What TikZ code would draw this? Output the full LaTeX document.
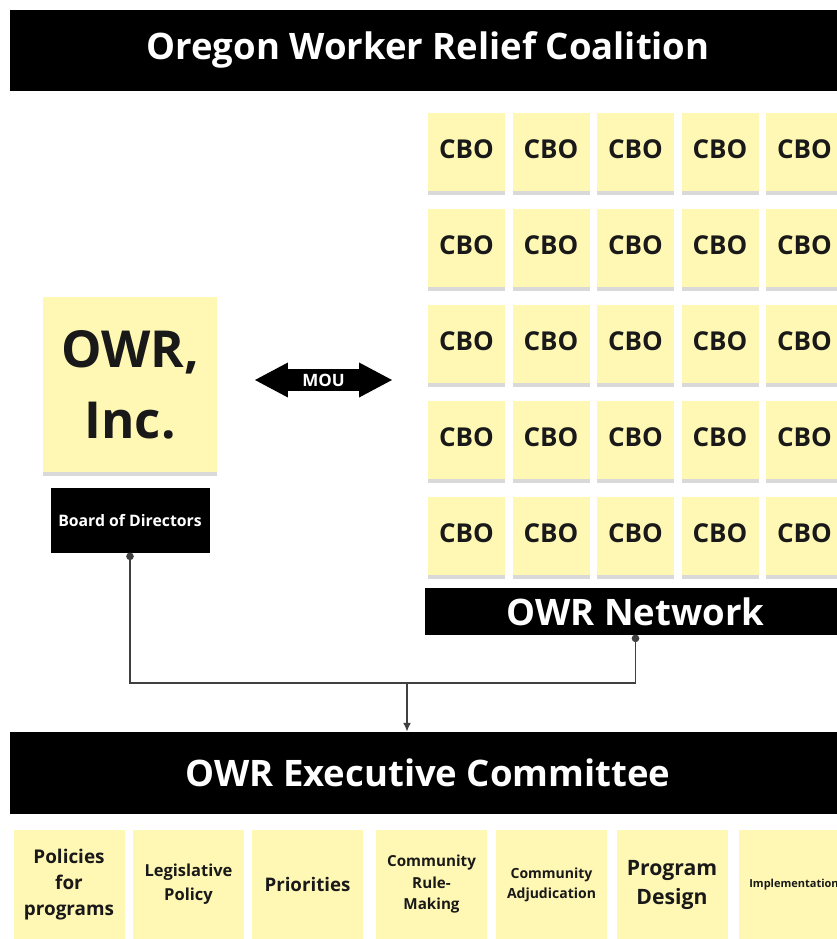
\documentclass[tikz,border=0pt]{standalone}
\usepackage{fontspec}
\setmainfont{Open Sans}
\usepackage{tikz}
\usetikzlibrary{shapes.arrows, arrows.meta, shadows, positioning}

\definecolor{stickyyellow}{HTML}{FFF8B4}
\definecolor{wiregray}{HTML}{404040}

\begin{document}
\begin{tikzpicture}[x=1pt, y=-1pt, >={Latex[length=9pt,width=8pt]}, font=\bfseries,
    bar/.style={draw=black, fill=black, text=white, inner sep=0pt},
    sticky/.style={fill=stickyyellow, align=center, inner sep=0pt, text=black!90,
        drop shadow={shadow xshift=0pt, shadow yshift=-4pt, opacity=0.3}},
    note/.style={sticky, minimum width=111pt, minimum height=109pt},
    cbo/.style={sticky, minimum width=77pt, minimum height=78pt, text depth=6pt, font=\fontsize{26}{30}\selectfont\bfseries},
    wire/.style={draw=wiregray, line width=1.8pt}]

\useasboundingbox (0,0) rectangle (837,939);
\clip (0,0) rectangle (837,939);

\node[bar, minimum width=836pt, minimum height=80pt, font=\fontsize{36.5}{40}\selectfont\bfseries] (coalition) at (428,50) {Oregon Worker Relief Coalition};

% member organisations
\foreach \r in {1,...,5}
    \foreach \c in {1,...,5}
        \node[cbo] (cbo-\r-\c) at ({466.5+84.5*(\c-1)}, {152+96*(\r-1)}) {CBO};

\node[bar, minimum width=420pt, minimum height=46pt, font=\fontsize{36.5}{40}\selectfont\bfseries, below=13pt of cbo-5-3] (network) {OWR Network};

\node[sticky, minimum width=174pt, minimum height=175pt, font=\fontsize{51}{71}\selectfont\bfseries] (owr) at (130,384.5) {OWR,\\Inc.};
\node[bar, minimum width=158pt, minimum height=64pt, font=\fontsize{15.8}{18}\selectfont\bfseries, below=16pt of owr] (board) {Board of Directors};

\node[double arrow, fill=black, text=white, font=\fontsize{17}{17}\selectfont\bfseries, minimum height=137pt,
    inner ysep=4.5pt, double arrow head extend=6.5pt, double arrow tip angle=56] (mou) at (323.5,380) {MOU};

\node[bar, minimum width=836pt, minimum height=81pt, font=\fontsize{36.5}{40}\selectfont\bfseries] (exec) at (428,772.5) {OWR Executive Committee};

\coordinate (jn) at (407,683);
\draw[wire, {Circle[length=7.5pt]}-{Circle[length=7.5pt]}] (board.south) |- (jn) -| (network.south);
\draw[wire, ->] (jn) -- (jn |- exec.north);

% committee work areas
\node[note, font=\fontsize{18.9}{26}\selectfont\bfseries] (policies) at (69,884.5) {Policies\\for\\programs};
\node[note, font=\fontsize{16.5}{24}\selectfont\bfseries] (legislative) at (188.5,884.5) {Legislative\\Policy};
\node[note, font=\fontsize{18.7}{26}\selectfont\bfseries] (priorities) at (307.5,884.5) {Priorities};
\node[note, font=\fontsize{15.2}{21.5}\selectfont\bfseries] (rulemaking) at (431.5,884.5) {Community\\Rule-\\Making};
\node[note, font=\fontsize{14}{20}\selectfont\bfseries] (adjudication) at (551.5,884.5) {Community\\Adjudication};
\node[note, font=\fontsize{21.2}{29}\selectfont\bfseries] (design) at (672,884.5) {Program\\Design};
\node[note, font=\fontsize{11}{14}\selectfont\bfseries] (implementation) at (794,884.5) {Implementation};
\end{tikzpicture}
\end{document}
